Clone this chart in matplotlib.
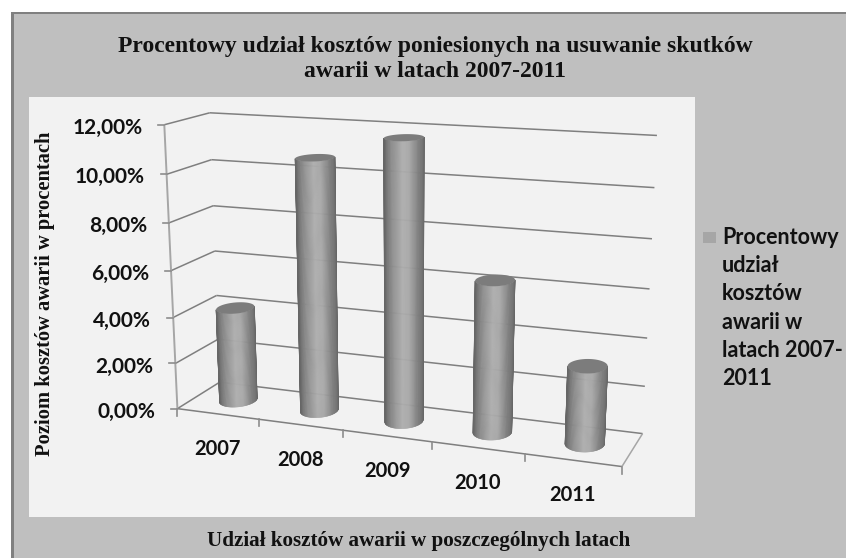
"""Percentage share of failure costs 2007-2011, Excel style 3D cylinder chart."""

import matplotlib

matplotlib.use("Agg")
import matplotlib.pyplot as plt
import numpy as np
from matplotlib.collections import PolyCollection
from matplotlib.patches import Rectangle

years = ["2007", "2008", "2009", "2010", "2011"]
shares = [4.1, 10.7, 11.7, 6.3, 3.2]
y_ticks = [0, 2, 4, 6, 8, 10, 12]
y_tick_labels = ["0,00%", "2,00%", "4,00%", "6,00%", "8,00%", "10,00%", "12,00%"]

title = "Procentowy udział kosztów poniesionych na usuwanie skutków\nawarii w latach 2007-2011"
y_title = "Poziom kosztów awarii w procentach"
x_title = "Udział kosztów awarii w poszczególnych latach"
legend_label = "Procentowy\nudział\nkosztów\nawarii w\nlatach 2007-\n2011"

W, H = 846, 558
SANS = "Lato"
SERIF = "Liberation Serif"
GRID = "#7f7f7f"
RX, RZ = 0.2, 0.25

# (category, value, depth) -> picture position, used to fit the perspective
box_points = [
    (0, 0, 0), (0, 12, 0), (0, 0, 1), (0, 12, 1), (5, 0, 1), (5, 12, 1),
    (5, 0, 0), (2, 0, 0), (3, 0, 0),
]
box_pixels = [
    (178, 409), (165, 124), (220, 382), (209, 113), (643, 433), (657, 136),
    (622, 466), (342, 430), (432, 443),
]


def fit_camera(world, pixels):
    rows, rhs = [], []
    for (x, y, z), (u, v) in zip(world, pixels):
        rows.append([x, y, z, 1, 0, 0, 0, 0, -u * x, -u * y, -u * z])
        rows.append([0, 0, 0, 0, x, y, z, 1, -v * x, -v * y, -v * z])
        rhs += [u, v]
    sol = np.linalg.lstsq(np.array(rows, float), np.array(rhs, float), rcond=None)[0]
    return np.append(sol, 1).reshape(3, 4)


camera = fit_camera(box_points, box_pixels)


def project(x, y, z):
    x, y, z = np.broadcast_arrays(x, y, z)
    pts = camera @ np.stack([x, y, z, np.ones_like(x)], dtype=float).reshape(4, -1)
    return (pts[:2] / pts[2]).T


def line3d(ax, a, b, color=GRID, lw=1.1):
    p = project(*np.array([a, b]).T)
    ax.plot(p[:, 0], p[:, 1], color=color, lw=lw, solid_capstyle="butt", zorder=2)


def ring(center, value, t):
    return project(center + RX * np.cos(t), value, 0.5 - RZ * np.sin(t))


def front_arc(center, value, n=60):
    # visible half of the circle, between its left and right silhouette points
    t = np.linspace(-np.pi / 2, 3 * np.pi / 2, 1441)
    u = ring(center, value, t)[:, 0]
    return ring(center, value, np.linspace(t[u.argmax()], t[u.argmin()], n))


fig = plt.figure(figsize=(W / 100, H / 100), dpi=100, facecolor="white")
ax = fig.add_axes([0, 0, 1, 1])
ax.set_xlim(0, W)
ax.set_ylim(H, 0)
ax.axis("off")

ax.add_patch(Rectangle((11, 12), W, H, fc="#808080", ec="none", zorder=0))
ax.add_patch(Rectangle((14, 14), W, H, fc="#bfbfbf", ec="none", zorder=0))
ax.add_patch(Rectangle((29, 97), 666, 420, fc="#f2f2f2", ec="none", zorder=1))

# walls and floor
for tick in y_ticks:
    line3d(ax, (0, tick, 0), (0, tick, 1))
    line3d(ax, (0, tick, 1), (5, tick, 1))
line3d(ax, (0, 0, 0), (5, 0, 0))
line3d(ax, (5, 0, 0), (5, 0, 1), color="#a6a6a6")
line3d(ax, (0, 0, 0), (0, 12, 0), color="#a6a6a6", lw=1.4)

# axis ticks and labels
for tick, label in zip(y_ticks, y_tick_labels):
    (u, v), = project(0, tick, 0)
    ax.plot([u - 6, u], [v, v], color="#8c8c8c", lw=1.2, zorder=2)
    ax.text(u - 22, v + 3, label, ha="right", va="center", fontsize=15,
            family=SANS, weight="bold", color="#111111")
for i in range(len(years) + 1):
    (u, v), = project(i, 0, 0)
    ax.plot([u, u], [v, v + 7], color="#8c8c8c", lw=1.2, zorder=2)
for i, year in enumerate(years):
    (u, v), = project(i + 0.5, 0, 0)
    ax.text(u, v + 35, year, ha="center", va="center", fontsize=14.5,
            family=SANS, weight="bold", color="#111111")

# cylinders, built from narrow strips so the shading follows the surface
band_pos = [0.0, 0.06, 0.2, 0.45, 0.62, 0.85, 0.95, 1.0]
band_val = [0.40, 0.47, 0.56, 0.68, 0.66, 0.50, 0.46, 0.40]
for i, value in enumerate(shares):
    base = front_arc(i + 0.5, 0)
    top = front_arc(i + 0.5, value)
    polys = [[base[k], base[k + 1], top[k + 1], top[k]] for k in range(len(base) - 1)]
    across = (1 + np.cos(np.linspace(0, np.pi, len(polys)))) / 2
    colors = [str(round(s, 3)) for s in np.interp(across, band_pos, band_val)]
    ax.add_collection(PolyCollection(polys, facecolors=colors, edgecolors=colors, lw=0.4, zorder=3))
    cap = ring(i + 0.5, value, np.linspace(0, 2 * np.pi, 60))
    ax.fill(cap[:, 0], cap[:, 1], color="#7c7c7c", lw=0, zorder=4)

# titles
ax.text(435, 59, title, ha="center", va="center", fontsize=17, family=SERIF,
        weight="bold", linespacing=1.3, color="#111111")
ax.text(45, 294, y_title, rotation=90, ha="center", va="center", fontsize=14.8,
        family=SERIF, weight="bold", color="#111111")
ax.text(419, 541, x_title, ha="center", va="center", fontsize=15.2, family=SERIF,
        weight="bold", color="#111111")

# legend
ax.add_patch(Rectangle((703, 232), 13, 11, fc="#a6a6a6", ec="none", zorder=2))
ax.text(722, 308, legend_label, ha="left", va="center", fontsize=15.5, family=SANS,
        weight="bold", linespacing=1.42, color="#111111")

fig.savefig("out.png", dpi=100)
